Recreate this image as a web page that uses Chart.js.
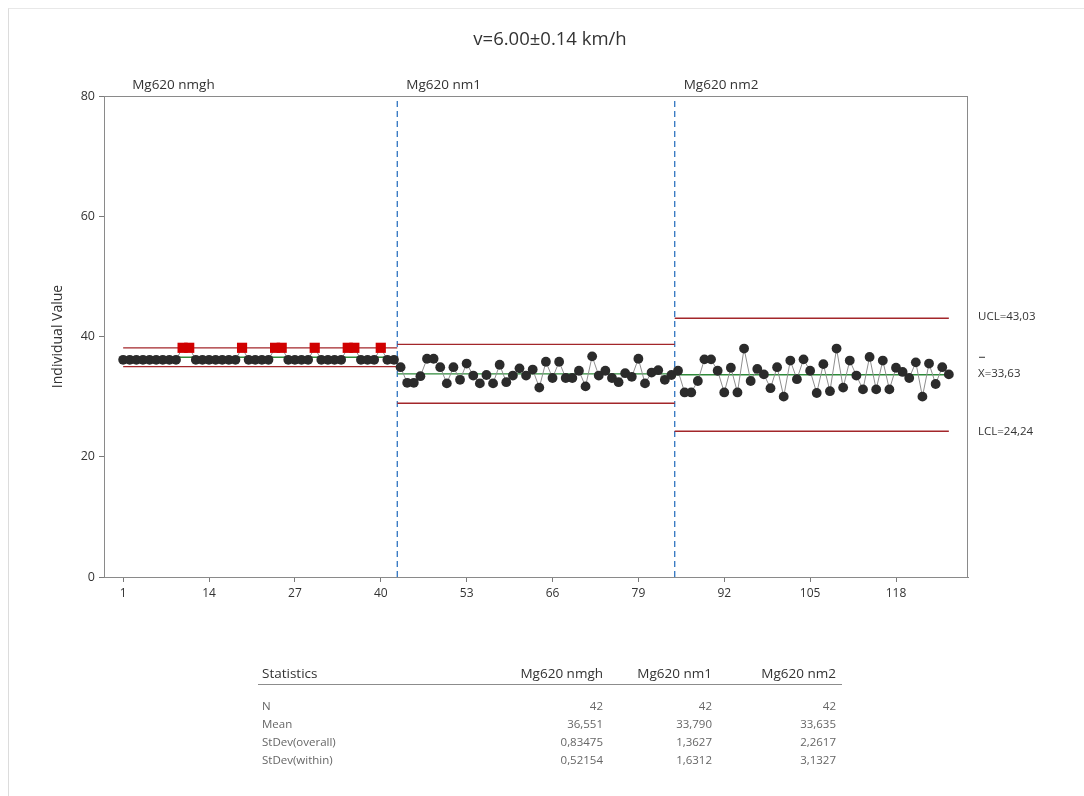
<!DOCTYPE html>
<html>
<head>
<meta charset="utf-8">
<script src="https://cdn.jsdelivr.net/npm/chart.js@4.4.1/dist/chart.umd.min.js"></script>
<style>
  html, body { margin: 0; padding: 0; background: #fff; }
  #wrap { position: relative; width: 1084px; height: 796px; overflow: hidden; font-family: "Open Sans", "Noto Sans", sans-serif; }
  #frame { position: absolute; left: 8px; top: 8px; right: -2px; bottom: -2px; border-left: 1px solid #dcdcdc; border-top: 1px solid #e8e8e8; }
  canvas { position: absolute; left: 0; top: 0; }
  .t { position: absolute; white-space: nowrap; line-height: 1; }
  .hdr { color: #333; font-size: 13.5px; }
  .row { color: #666; font-size: 11.5px; }
  #rule { position: absolute; height: 1px; background: #8c8c8c; }
</style>
</head>
<body>
<div id="wrap">
  <div id="frame"></div>
  <canvas id="c" width="1084" height="796"></canvas>
  <div id="tbl"></div>
</div>
<script>
// Stage names and per-stage statistics (I chart by stage)
const stageNames = ['Mg620 nmgh', 'Mg620 nm1', 'Mg620 nm2'];
const stageN = [42, 42, 42];
const stageMean = [36.551, 33.790, 33.635];
const stageSdOverall = [0.83475, 1.3627, 2.2617];
const stageSdWithin = [0.52154, 1.6312, 3.1327];

// Axis tick labels
const xTickLabels = [1, 14, 27, 40, 53, 66, 79, 92, 105, 118];
const yTickLabels = [0, 20, 40, 60, 80];

// Individual observations, one array per stage
const valuesNmgh = [
  36.12, 36.12, 36.12, 36.12, 36.12, 36.12, 36.12, 36.12, 36.12, 38.12,
  38.12, 36.12, 36.12, 36.12, 36.12, 36.12, 36.12, 36.12, 38.12, 36.12,
  36.12, 36.12, 36.12, 38.12, 38.12, 36.12, 36.12, 36.12, 36.12, 38.12,
  36.12, 36.12, 36.12, 36.12, 38.12, 38.12, 36.12, 36.12, 36.12, 38.12,
  36.12, 36.12
];
const valuesNm1 = [
  34.9, 32.3, 32.3, 33.4, 36.3, 36.3, 34.9, 32.2, 34.9, 32.8,
  35.5, 33.5, 32.2, 33.6, 32.2, 35.3, 32.4, 33.5, 34.7, 33.5,
  34.5, 31.5, 35.8, 33.1, 35.8, 33.1, 33.1, 34.3, 31.7, 36.7,
  33.5, 34.3, 33.1, 32.4, 33.9, 33.3, 36.3, 32.2, 34.0, 34.4,
  32.8, 33.6
];
const valuesNm2 = [
  34.3, 30.7, 30.7, 32.6, 36.2, 36.2, 34.3, 30.7, 34.8, 30.7,
  38.0, 32.6, 34.6, 33.7, 31.4, 34.9, 30.0, 36.0, 32.9, 36.2,
  34.3, 30.6, 35.4, 30.9, 38.0, 31.5, 36.0, 33.5, 31.2, 36.6,
  31.2, 36.0, 31.2, 34.8, 34.1, 33.1, 35.7, 30.0, 35.5, 32.1,
  34.9, 33.7
];

const stageValues = [valuesNmgh, valuesNm1, valuesNm2];
const ucl = stageMean.map((m, i) => m + 3 * stageSdWithin[i]);
const lcl = stageMean.map((m, i) => m - 3 * stageSdWithin[i]);

// Flatten observations into (index, value) points, flag those beyond the stage limits
const points = [], pointColors = [], pointStyles = [], pointRadii = [];
const stageStart = [], stageEnd = [];
let idx = 0;
stageValues.forEach((vals, s) => {
  stageStart.push(idx + 1);
  vals.forEach(v => {
    idx++;
    points.push({ x: idx, y: v });
    const out = v > ucl[s] || v < lcl[s];
    pointColors.push(out ? '#d00000' : '#2b2b2b');
    pointStyles.push(out ? 'rect' : 'circle');
    pointRadii.push(out ? 7.2 : 4.9);
  });
  stageEnd.push(idx);
});

// Horizontal extent of each stage's limit lines
const segFrom = stageStart.map((s, i) => i === 0 ? s : s - 0.5);
const segTo = stageEnd.map((e, i) => i === stageEnd.length - 1 ? e : e + 0.5);

const datasets = [{
  data: points,
  borderColor: '#8e8e8e',
  borderWidth: 1,
  pointBackgroundColor: pointColors,
  pointBorderColor: pointColors,
  pointStyle: pointStyles,
  pointRadius: pointRadii,
  pointBorderWidth: 0,
  tension: 0
}];
const hline = (s, y, color) => ({
  data: [{ x: segFrom[s], y: y }, { x: segTo[s], y: y }],
  borderColor: color, borderWidth: 1.4, pointRadius: 0
});
stageNames.forEach((_, s) => {
  datasets.push(hline(s, stageMean[s], '#2f8a3b'));
  datasets.push(hline(s, ucl[s], '#a3262a'));
  datasets.push(hline(s, lcl[s], '#a3262a'));
});
// Dashed stage dividers
for (let s = 1; s < stageNames.length; s++) {
  datasets.push({
    data: [{ x: segFrom[s], y: 0 }, { x: segFrom[s], y: 80 }],
    borderColor: '#2f74c0', borderWidth: 1.3, borderDash: [6, 4], pointRadius: 0
  });
}

const comma = v => String(v).replace('.', ',');
const FONT = '"Open Sans", "Noto Sans", sans-serif';

const annotate = {
  id: 'annotate',
  afterDraw(chart) {
    const { ctx, chartArea: a, scales } = chart;
    const xs = scales.x, ys = scales.y;
    ctx.save();
    // plot frame
    ctx.strokeStyle = '#8a8a8a';
    ctx.lineWidth = 1;
    ctx.strokeRect(a.left + 0.5, a.top + 0.5, a.right - a.left - 1, a.bottom - a.top);

    // title
    ctx.fillStyle = '#333';
    ctx.font = '18.5px ' + FONT;
    ctx.textAlign = 'center';
    ctx.textBaseline = 'middle';
    ctx.fillText('v=6.00\u00b10.14 km/h', 550, 40);

    // y-axis title
    ctx.save();
    ctx.translate(58, (a.top + a.bottom) / 2);
    ctx.rotate(-Math.PI / 2);
    ctx.font = '14px ' + FONT;
    ctx.fillText('Individual Value', 0, 0);
    ctx.restore();

    // stage names above the plot
    ctx.font = '13.5px ' + FONT;
    ctx.textAlign = 'left';
    ctx.fillStyle = '#333';
    stageNames.forEach((n, s) => {
      ctx.fillText(n, xs.getPixelForValue(segFrom[s]) + 9, a.top - 11);
    });

    // limit labels for the last stage
    const last = stageNames.length - 1;
    const lx = a.right + 10;
    ctx.font = '11.5px ' + FONT;
    ctx.fillText('UCL=' + comma(ucl[last].toFixed(2)), lx, ys.getPixelForValue(ucl[last]) - 2);
    ctx.fillText('LCL=' + comma(lcl[last].toFixed(2)), lx, ys.getPixelForValue(lcl[last]));
    const my = ys.getPixelForValue(stageMean[last]) - 1;
    ctx.fillText('X=' + comma(stageMean[last].toFixed(2)), lx, my);
    ctx.strokeStyle = '#333';
    ctx.beginPath();
    ctx.moveTo(lx + 1, my - 16.5);
    ctx.lineTo(lx + 7, my - 16.5);
    ctx.stroke();
    ctx.restore();
  }
};

new Chart(document.getElementById('c'), {
  type: 'line',
  data: { datasets },
  options: {
    responsive: false,
    animation: false,
    events: [],
    layout: { padding: { left: 0, top: 96, right: 116, bottom: 0 } },
    plugins: { legend: { display: false }, tooltip: { enabled: false } },
    scales: {
      x: {
        type: 'linear', min: -1.9, max: 128.9,
        afterBuildTicks: sc => { sc.ticks = xTickLabels.map(v => ({ value: v })); },
        afterFit: sc => { sc.height = 219; },
        ticks: { color: '#333', font: { size: 12, family: FONT }, padding: 4, maxRotation: 0, autoSkip: false },
        grid: { drawOnChartArea: false, drawTicks: true, tickLength: 5, color: '#7a7a7a' },
        border: { color: '#8a8a8a' }
      },
      y: {
        type: 'linear', min: 0, max: 80,
        afterBuildTicks: sc => { sc.ticks = yTickLabels.map(v => ({ value: v })); },
        afterFit: sc => { sc.width = 104; },
        ticks: { color: '#333', font: { size: 12.5, family: FONT }, padding: 4 },
        grid: { drawOnChartArea: false, drawTicks: true, tickLength: 5, color: '#7a7a7a' },
        border: { color: '#8a8a8a' }
      }
    }
  },
  plugins: [annotate]
});

// Statistics table under the chart
(function () {
  const tbl = document.getElementById('tbl');
  const colRight = [603, 712, 836];
  const leftX = 262;
  const add = (cls, text, x, y, right) => {
    const d = document.createElement('div');
    d.className = 't ' + cls;
    d.textContent = text;
    d.style.top = y + 'px';
    if (right) { d.style.right = (1084 - x) + 'px'; } else { d.style.left = x + 'px'; }
    tbl.appendChild(d);
  };
  add('hdr', 'Statistics', leftX, 667);
  stageNames.forEach((n, i) => add('hdr', n, colRight[i], 667, true));
  const rule = document.createElement('div');
  rule.id = 'rule';
  rule.style.left = '258px'; rule.style.width = '584px'; rule.style.top = '684px';
  tbl.appendChild(rule);
  const rows = [
    ['N', stageN.map(v => String(v))],
    ['Mean', stageMean.map(v => comma(v.toFixed(3)))],
    ['StDev(overall)', stageSdOverall.map(v => comma(v.toPrecision(5)))],
    ['StDev(within)', stageSdWithin.map(v => comma(v.toPrecision(5)))]
  ];
  rows.forEach((r, k) => {
    const y = 700 + k * 18;
    add('row', r[0], leftX, y);
    r[1].forEach((v, i) => add('row', v, colRight[i], y, true));
  });
})();
</script>
</body>
</html>
